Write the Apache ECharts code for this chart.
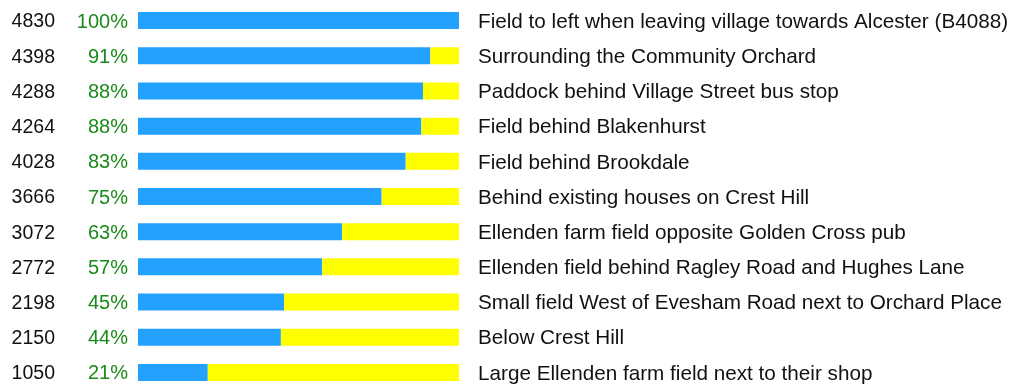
<!DOCTYPE html>
<html>
<head>
<meta charset="utf-8">
<script src="https://cdn.jsdelivr.net/npm/echarts@6/dist/echarts.min.js"></script>
<style>
  html, body { margin: 0; padding: 0; background: #fff; }
  #chart { width: 1013px; height: 390px; }
</style>
</head>
<body>
<div id="chart"></div>
<script>
// Site names, votes received and share of the top vote count
const sites = [
  'Field to left when leaving village towards Alcester (B4088)',
  'Surrounding the Community Orchard',
  'Paddock behind Village Street bus stop',
  'Field behind Blakenhurst',
  'Field behind Brookdale',
  'Behind existing houses on Crest Hill',
  'Ellenden farm field opposite Golden Cross pub',
  'Ellenden field behind Ragley Road and Hughes Lane',
  'Small field West of Evesham Road next to Orchard Place',
  'Below Crest Hill',
  'Large Ellenden farm field next to their shop'
];
const votes = [4830, 4398, 4288, 4264, 4028, 3666, 3072, 2772, 2198, 2150, 1050];
const percents = [100, 91, 88, 88, 83, 75, 63, 57, 45, 44, 21];
const maxVotes = 4830;

const font = 'Liberation Sans, Arial, Helvetica, sans-serif';
const remainder = votes.map(v => maxVotes - v);

const chart = echarts.init(document.getElementById('chart'));
chart.setOption({
  animation: false,
  grid: { left: 138, right: 554, top: 3, bottom: 0 },
  xAxis: {
    type: 'value', min: 0, max: maxVotes,
    show: false
  },
  yAxis: [
    {
      type: 'category', data: sites.map((s, i) => i), inverse: true,
      position: 'left',
      axisLine: { show: false }, axisTick: { show: false },
      axisLabel: {
        margin: 10,
        formatter: (val, i) => '{v|' + votes[i] + '}{p|' + percents[i] + '%}',
        rich: {
          v: { fontSize: 19.5, fontFamily: font, color: '#111', width: 50, align: 'right', padding: [3, 0, 0, 0] },
          p: { fontSize: 20, fontFamily: font, color: '#1a8a1a', width: 73, align: 'right', padding: [3, 0, 0, 0] }
        }
      }
    },
    {
      type: 'category', data: sites, inverse: true,
      position: 'right',
      axisLine: { show: false }, axisTick: { show: false },
      axisLabel: {
        margin: 19, align: 'left',
        formatter: (val) => '{n|' + val + '}',
        rich: {
          n: { fontSize: 20.7, fontFamily: font, color: '#111', padding: [3, 0, 0, 0] }
        }
      }
    }
  ],
  series: [
    {
      type: 'bar', stack: 'total', data: votes, barWidth: 17,
      itemStyle: { color: '#22a1ff' }
    },
    {
      type: 'bar', stack: 'total', data: remainder, barWidth: 17,
      itemStyle: { color: '#ffff00' }
    }
  ]
});
</script>
</body>
</html>
